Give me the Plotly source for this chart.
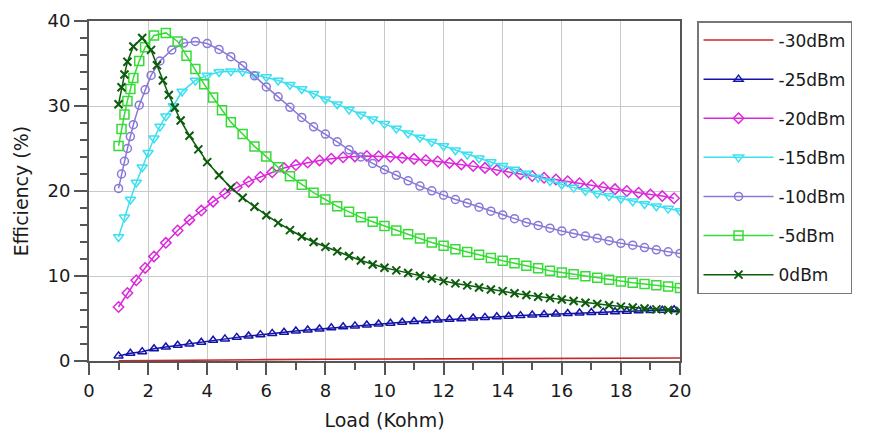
import plotly.graph_objects as go

# ---------------- data ----------------
series_names = ["-30dBm", "-25dBm", "-20dBm", "-15dBm", "-10dBm", "-5dBm", "0dBm"]

load_m30 = [1, 2, 4, 6, 8, 10, 12, 14, 16, 18, 20]
eff_m30 = [0.03, 0.07, 0.12, 0.16, 0.2, 0.23, 0.26, 0.29, 0.31, 0.33, 0.35]

load_m25 = [1.0, 1.4, 1.8, 2.2, 2.6, 3.0, 3.4, 3.8, 4.2, 4.6, 5.0, 5.4, 5.8, 6.2, 6.6, 7.0,
            7.4, 7.8, 8.2, 8.6, 9.0, 9.4, 9.8, 10.2, 10.6, 11.0, 11.4, 11.8, 12.2, 12.6, 13.0,
            13.4, 13.8, 14.2, 14.6, 15.0, 15.4, 15.8, 16.2, 16.6, 17.0, 17.4, 17.8, 18.2, 18.6,
            19.0, 19.4, 19.8]
eff_m25 = [0.6, 0.9, 1.1, 1.45, 1.65, 1.85, 2.0, 2.2, 2.45, 2.6, 2.78, 2.94, 3.1, 3.25, 3.38,
           3.52, 3.65, 3.77, 3.9, 4.02, 4.13, 4.24, 4.35, 4.45, 4.55, 4.64, 4.73, 4.82, 4.9,
           4.98, 5.06, 5.13, 5.2, 5.27, 5.34, 5.41, 5.47, 5.53, 5.59, 5.65, 5.7, 5.75, 5.8,
           5.85, 5.9, 5.94, 5.98, 6.02]

load_m20 = [1.0, 1.3, 1.6, 1.9, 2.2, 2.6, 3.0, 3.4, 3.8, 4.2, 4.6, 5.0, 5.4, 5.8, 6.2, 6.6,
            7.0, 7.4, 7.8, 8.2, 8.6, 9.0, 9.4, 9.8, 10.2, 10.6, 11.0, 11.4, 11.8, 12.2, 12.6,
            13.0, 13.4, 13.8, 14.2, 14.6, 15.0, 15.4, 15.8, 16.2, 16.6, 17.0, 17.4, 17.8, 18.2,
            18.6, 19.0, 19.4, 19.8]
eff_m20 = [6.35, 8.0, 9.5, 10.95, 12.3, 13.9, 15.35, 16.6, 17.7, 18.75, 19.7, 20.45, 21.1,
           21.65, 22.2, 22.7, 23.05, 23.35, 23.6, 23.8, 23.97, 24.07, 24.12, 24.1, 24.02,
           23.9, 23.78, 23.62, 23.47, 23.3, 23.13, 22.95, 22.72, 22.46, 22.2, 21.98, 21.76,
           21.56, 21.36, 21.15, 20.92, 20.68, 20.45, 20.22, 20.0, 19.8, 19.6, 19.4, 19.15]

load_m15 = [1.0, 1.2, 1.4, 1.6, 1.8, 2.0, 2.2, 2.4, 2.6, 2.85, 3.15, 3.6, 4.0, 4.4, 4.8, 5.2,
            5.6, 6.0, 6.4, 6.8, 7.2, 7.6, 8.0, 8.4, 8.8, 9.2, 9.6, 10.0, 10.4, 10.8, 11.2,
            11.6, 12.0, 12.4, 12.8, 13.2, 13.6, 14.0, 14.4, 14.8, 15.2, 15.6, 16.0, 16.4,
            16.8, 17.2, 17.6, 18.0, 18.4, 18.8, 19.2, 19.6, 20.0]
eff_m15 = [14.6, 16.9, 19.0, 21.0, 22.8, 24.5, 26.2, 27.6, 28.8, 30.0, 31.7, 33.0, 33.6,
           34.0, 34.1, 34.05, 33.7, 33.4, 33.0, 32.5, 32.0, 31.45, 30.8, 30.2, 29.6, 29.0,
           28.45, 27.9, 27.35, 26.8, 26.3, 25.8, 25.3, 24.8, 24.3, 23.85, 23.42, 22.97, 22.52,
           22.06, 21.6, 21.17, 20.77, 20.4, 20.03, 19.7, 19.4, 19.1, 18.8, 18.47, 18.2, 17.93,
           17.65]

load_m10 = [1.0, 1.1, 1.2, 1.3, 1.4, 1.5, 1.7, 1.9, 2.1, 2.4, 2.8, 3.2, 3.6, 4.0, 4.4, 4.8,
            5.2, 5.6, 6.0, 6.4, 6.8, 7.2, 7.6, 8.0, 8.4, 8.8, 9.2, 9.6, 10.0, 10.4, 10.8, 11.2,
            11.6, 12.0, 12.4, 12.8, 13.2, 13.6, 14.0, 14.4, 14.8, 15.2, 15.6, 16.0, 16.4, 16.8,
            17.2, 17.6, 18.0, 18.4, 18.8, 19.2, 19.6, 20.0]
eff_m10 = [20.3, 22.0, 23.5, 25.0, 26.4, 27.8, 30.1, 31.9, 33.6, 35.3, 36.6, 37.4, 37.6,
           37.35, 36.65, 35.8, 34.75, 33.55, 32.25, 31.08, 29.85, 28.65, 27.55, 26.7, 25.78,
           24.85, 24.0, 23.25, 22.5, 21.85, 21.2, 20.58, 20.02, 19.5, 19.0, 18.58, 18.1, 17.63,
           17.18, 16.75, 16.3, 15.95, 15.63, 15.3, 15.0, 14.7, 14.45, 14.15, 13.85, 13.62,
           13.35, 13.08, 12.85, 12.65]

load_m5 = [1.0, 1.1, 1.2, 1.3, 1.4, 1.5, 1.7, 1.9, 2.2, 2.6, 3.0, 3.3, 3.6, 3.9, 4.2, 4.5,
           4.8, 5.2, 5.6, 6.0, 6.4, 6.8, 7.2, 7.6, 8.0, 8.4, 8.8, 9.2, 9.6, 10.0, 10.4, 10.8,
           11.2, 11.6, 12.0, 12.4, 12.8, 13.2, 13.6, 14.0, 14.4, 14.8, 15.2, 15.6, 16.0, 16.4,
           16.8, 17.2, 17.6, 18.0, 18.4, 18.8, 19.2, 19.6, 20.0]
eff_m5 = [25.3, 27.3, 29.0, 30.6, 32.0, 33.3, 35.3, 36.9, 38.3, 38.6, 37.6, 35.9, 34.35,
          32.55, 31.0, 29.5, 28.1, 26.7, 25.25, 24.05, 22.8, 21.75, 20.75, 19.8, 19.0, 18.2,
          17.55, 16.9, 16.38, 15.88, 15.35, 14.9, 14.42, 13.95, 13.56, 13.15, 12.82, 12.5,
          12.12, 11.8, 11.5, 11.2, 10.9, 10.63, 10.4, 10.2, 9.98, 9.8, 9.55, 9.35, 9.2, 9.06,
          8.9, 8.77, 8.6]

load_0 = [1.0, 1.1, 1.2, 1.3, 1.5, 1.8, 2.1, 2.3, 2.5, 2.7, 2.9, 3.1, 3.4, 3.7, 4.0, 4.4,
          4.8, 5.2, 5.6, 6.0, 6.4, 6.8, 7.2, 7.6, 8.0, 8.4, 8.8, 9.2, 9.6, 10.0, 10.4, 10.8,
          11.2, 11.6, 12.0, 12.4, 12.8, 13.2, 13.6, 14.0, 14.4, 14.8, 15.2, 15.6, 16.0, 16.4,
          16.8, 17.2, 17.6, 18.0, 18.4, 18.8, 19.2, 19.6, 20.0]
eff_0 = [30.2, 32.2, 33.7, 35.2, 37.0, 38.0, 36.6, 34.8, 33.0, 31.3, 29.8, 28.3, 26.5, 24.9,
         23.4, 21.85, 20.4, 19.2, 18.15, 17.15, 16.25, 15.4, 14.65, 14.0, 13.43, 12.9, 12.35,
         11.82, 11.36, 10.98, 10.66, 10.35, 10.0, 9.7, 9.4, 9.13, 8.9, 8.65, 8.42, 8.22, 7.97,
         7.76, 7.56, 7.42, 7.24, 7.05, 6.86, 6.7, 6.56, 6.4, 6.3, 6.18, 6.07, 6.0, 5.9]

x_ticks = [0, 2, 4, 6, 8, 10, 12, 14, 16, 18, 20]
y_ticks = [0, 10, 20, 30, 40]

# ---------------- styling ----------------
colors = ["#c82828", "#1414a8", "#dc28dc", "#3ce0f0", "#8878d8", "#36dc36", "#0c5c0c"]
symbols = [None, "triangle-up-open", "diamond-open", "triangle-down-open",
           "circle-open", "square-open", "x-thin-open"]
msizes = [0, 8, 8, 9, 8, 9, 8]

xs = [load_m30, load_m25, load_m20, load_m15, load_m10, load_m5, load_0]
ys = [eff_m30, eff_m25, eff_m20, eff_m15, eff_m10, eff_m5, eff_0]
for a, b in zip(xs, ys):
    assert len(a) == len(b), (len(a), len(b))

fig = go.Figure()
for name, x, y, c, s, ms in zip(series_names, xs, ys, colors, symbols, msizes):
    if s is None:
        fig.add_trace(go.Scatter(x=x, y=y, name=name, mode="lines", legendgroup=name,
                                 line=dict(color=c, width=1.6)))
    else:
        fig.add_trace(go.Scatter(
            x=x, y=y, name=name, mode="lines+markers", legendgroup=name,
            line=dict(color=c, width=1.5),
            marker=dict(symbol=s, size=ms, color=c,
                        line=dict(color=c, width=2 if "x-thin" in s else 1.5))))

axis_common = dict(
    showline=True, linecolor="#555555", linewidth=2, mirror=True,
    showgrid=True, gridcolor="#c8c8c8", gridwidth=1.2, zeroline=False,
    ticks="outside", tickcolor="#555555", tickwidth=1.5,
    tickfont=dict(size=18, color="#1a1a1a"), automargin=False,
)

fig.update_xaxes(range=[0, 20], tickvals=x_ticks, ticklen=12,
                 minor=dict(dtick=1, ticks="outside", ticklen=7, tickcolor="#555555",
                            tickwidth=1.5, showgrid=False),
                 title=dict(text="Load (Kohm)", font=dict(size=19, color="#1a1a1a"), standoff=14),
                 **axis_common)
fig.update_yaxes(range=[0, 40], tickvals=y_ticks, ticklen=13,
                 minor=dict(dtick=2, ticks="outside", ticklen=7, tickcolor="#555555",
                            tickwidth=1.5, showgrid=False),
                 title=dict(text="Efficiency (%)", font=dict(size=19, color="#1a1a1a"), standoff=14),
                 **axis_common)

# the page places the figure 8 px in from the top-left corner (default body margin)
fig.update_layout(
    width=862, height=425,
    margin=dict(l=81, r=190, t=13, b=72),
    paper_bgcolor="white", plot_bgcolor="white",
    font=dict(family="DejaVu Sans", size=18, color="#1a1a1a"),
    showlegend=True,
    legend=dict(x=1.0288, xanchor="left", y=1.0, yanchor="top",
                bordercolor="#777777", borderwidth=1.5, bgcolor="white",
                font=dict(size=17, color="#1a1a1a"),
                traceorder="grouped", tracegroupgap=14, itemwidth=70),
)

fig.write_html("out.html")
